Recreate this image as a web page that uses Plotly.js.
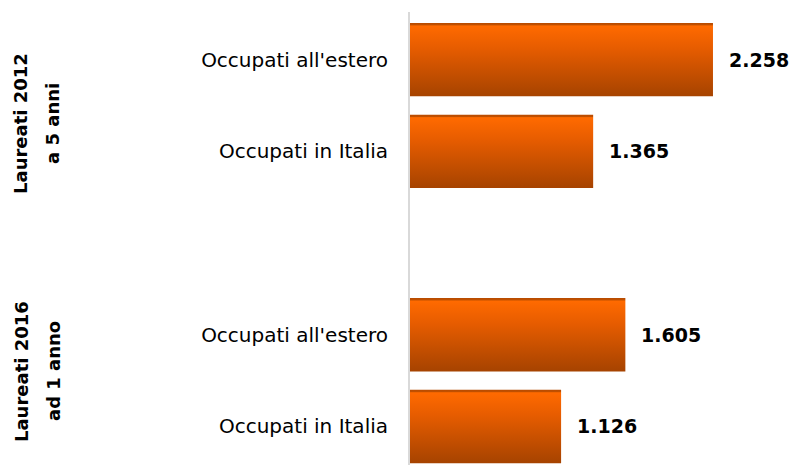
<!DOCTYPE html>
<html>
<head>
<meta charset="utf-8">
<script src="https://cdn.plot.ly/plotly-3.0.1.min.js"></script>
<style>
  html, body { margin: 0; padding: 0; background: #fff; }
  #chart { width: 790px; height: 465px; }
</style>
</head>
<body>
<div id="chart"></div>
<script>
// ---- data ----
var groupLines = [["Laureati 2012", "a 5 anni"], ["Laureati 2016", "ad 1 anno"]];
var categories = ["Occupati all'estero", "Occupati in Italia"];
var values2012 = [2258, 1365];
var values2016 = [1605, 1126];

// ---- build traces from data ----
var seriesByGroup = [values2012, values2016];
var yPos = [], xVal = [], tickText = [];
seriesByGroup.forEach(function (vals, g) {
  vals.forEach(function (v, i) {
    yPos.push(g * (categories.length + 1) + i);
    xVal.push(v);
    tickText.push(categories[i]);
  });
});

function fmt(n) {
  var s = String(Math.round(n));
  return s.replace(/\B(?=(\d{3})+(?!\d))/g, ".");
}

var trace = {
  type: 'bar',
  orientation: 'h',
  x: xVal,
  y: yPos,
  width: 0.8,
  marker: { color: '#e05a00', line: { width: 0 } },
  hoverinfo: 'none'
};

var annotations = xVal.map(function (v, k) {
  return {
    x: v, y: yPos[k], xref: 'x', yref: 'y',
    text: fmt(v), showarrow: false,
    xanchor: 'left', yanchor: 'middle', xshift: 14,
    font: { family: 'DejaVu Sans', size: 19, color: '#000', weight: 'bold' }
  };
});
var groupY = [0.755, 0.2075];
var lineX = [-1.0237, -0.9395];
groupLines.forEach(function (lines, i) {
  lines.forEach(function (ln, j) {
    annotations.push({
      x: lineX[j], y: groupY[i], xref: 'paper', yref: 'paper',
      text: '<b>' + ln + '</b>', showarrow: false, textangle: -90,
      xanchor: 'center', yanchor: 'middle',
      font: { family: 'DejaVu Sans', size: 18, color: '#000' }
    });
  });
});

var layout = {
  width: 790, height: 465,
  margin: { l: 410, r: 0, t: 12, b: 0, pad: 0 },
  paper_bgcolor: '#fff', plot_bgcolor: '#fff',
  showlegend: false,
  xaxis: { range: [0, 2832], visible: false, fixedrange: true },
  yaxis: {
    range: [4.42, -0.52],
    tickvals: yPos, ticktext: tickText,
    showline: true, linecolor: '#d9d9d9', linewidth: 2,
    showgrid: false, zeroline: false, ticks: '',
    ticklabelstandoff: 16,
    tickfont: { family: 'DejaVu Sans', size: 20, color: '#000' },
    fixedrange: true
  },
  annotations: annotations
};

Plotly.newPlot('chart', [trace], layout, { staticPlot: true }).then(function (gd) {
  var svg = gd.querySelector('svg.main-svg');
  var ns = 'http://www.w3.org/2000/svg';
  var defs = svg.querySelector('defs') || svg.insertBefore(document.createElementNS(ns, 'defs'), svg.firstChild);
  var lg = document.createElementNS(ns, 'linearGradient');
  lg.setAttribute('id', 'barGrad');
  lg.setAttribute('x1', '0'); lg.setAttribute('y1', '0');
  lg.setAttribute('x2', '0'); lg.setAttribute('y2', '1');
  [['0', '#b84a00'], ['0.025', '#c05000'], ['0.04', '#ff6a00'], ['0.35', '#e65c00'], ['1', '#a64300']].forEach(function (s) {
    var st = document.createElementNS(ns, 'stop');
    st.setAttribute('offset', s[0]);
    st.setAttribute('stop-color', s[1]);
    lg.appendChild(st);
  });
  defs.appendChild(lg);
  gd.querySelectorAll('.barlayer .point path').forEach(function (p) {
    p.style.fill = 'url(#barGrad)';
  });
});
</script>
</body>
</html>
